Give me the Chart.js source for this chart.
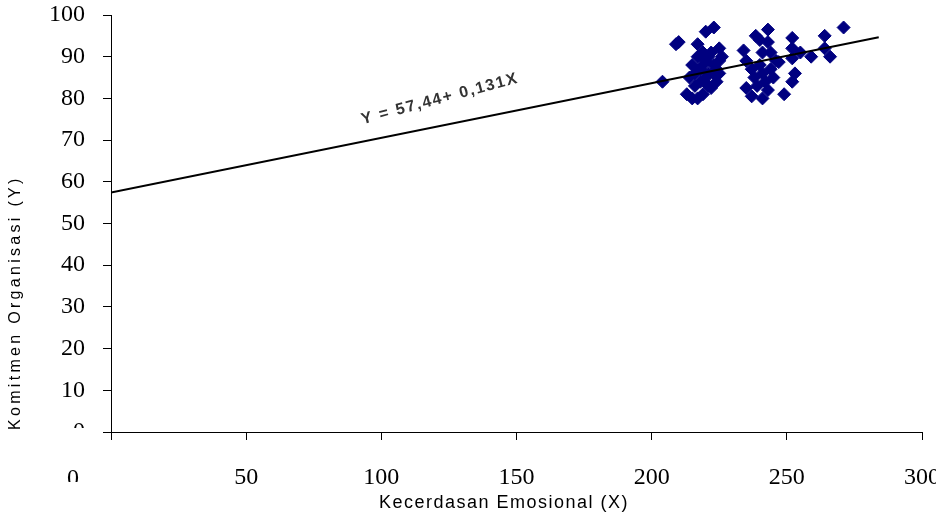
<!DOCTYPE html>
<html lang="en">
<head>
    <meta charset="UTF-8">
    <title>Kecerdasan Emosional vs Komitmen Organisasi</title>
    <script src="https://cdn.jsdelivr.net/npm/chart.js"></script>
    <style>
        body { margin: 0; background: #fff; }
    </style>
</head>
<body>
    <canvas id="myChart" width="936" height="516"></canvas>

    <script>
        // respondent scores
        const emosionalX = [
            204, 209, 210, 217, 220, 223, 225, 213, 215, 217, 219, 222, 224, 214, 216, 218, 219,
            220, 221, 222, 223, 225, 226, 215, 217, 218, 220, 221, 223, 224, 216, 219, 221, 225,
            243, 238.5, 243, 241, 240, 234, 235, 237, 238, 239, 240, 241, 242, 243, 241, 244,
            245, 246, 244, 235, 237, 247, 249, 252, 253, 252, 252, 252, 259, 264, 264, 266, 271, 255
        ];
        const komitmenY = [
            84, 93, 93.5, 93, 96, 97, 92, 81, 80, 80, 81, 82.5, 84, 85, 86, 87, 88,
            89, 90, 91, 88, 89, 90, 88, 90, 84, 85, 83, 86, 87, 83, 91, 86, 86,
            96.5, 95, 93.5, 91, 94, 91.5, 89, 87, 85, 83, 88, 86, 84, 82, 80, 87,
            85, 89, 91, 82.5, 80.5, 88.7, 81, 84, 86, 89.6, 92, 94.5, 90, 95, 92, 90, 97, 91
        ];
        // regression line Y = 57,44 + 0,131X drawn between its two ends
        const lineX = [0, 284];
        const lineY = [57.44, 94.64];
        const xTicks = [0, 50, 100, 150, 200, 250, 300];

        const points = emosionalX.map((x, i) => ({ x: x, y: komitmenY[i] }));
        const linePts = lineX.map((x, i) => ({ x: x, y: lineY[i] }));

        const serif = '"Liberation Serif", "Times New Roman", serif';
        const sans = '"Liberation Sans", Arial, sans-serif';

        // titles + equation are drawn here so they can get the wide letter spacing of the scan
        const extras = {
            id: 'extras',
            afterDraw(chart) {
                const ctx = chart.ctx;
                const area = chart.chartArea;

                ctx.save();
                ctx.fillStyle = '#000';
                ctx.textBaseline = 'middle';
                ctx.font = '18px ' + sans;
                ctx.letterSpacing = '1.5px';
                ctx.textAlign = 'center';
                ctx.fillText('Kecerdasan Emosional (X)', 504, 503);

                ctx.translate(16, area.bottom);
                ctx.rotate(-Math.PI / 2);
                ctx.font = '16px ' + sans;
                ctx.letterSpacing = '3.3px';
                ctx.textAlign = 'left';
                ctx.fillText('Komitmen Organisasi (Y)', 2, 0);
                ctx.restore();

                // equation label along the line
                ctx.save();
                ctx.translate(440, 99);
                ctx.rotate(-15 * Math.PI / 180);
                ctx.font = 'bold 16px ' + sans;
                ctx.letterSpacing = '1.7px';
                ctx.fillStyle = '#333';
                ctx.textAlign = 'center';
                ctx.textBaseline = 'middle';
                ctx.fillText('Y = 57,44+ 0,131X', 0, 0);
                ctx.restore();

                // the two half-hidden zeros of the original
                ctx.save();
                ctx.font = '24px ' + serif;
                ctx.fillStyle = '#000';
                ctx.textAlign = 'center';
                ctx.textBaseline = 'middle';
                ctx.beginPath();
                ctx.rect(60, 415, 35, 13);
                ctx.rect(55, 460, 35, 22);
                ctx.clip();
                ctx.fillText('0', 79, area.bottom);
                ctx.fillText('0', 73, 479);
                ctx.restore();
            }
        };

        const ctx = document.getElementById('myChart').getContext('2d');
        new Chart(ctx, {
            type: 'scatter',
            data: {
                datasets: [{
                    label: 'Data',
                    data: points,
                    pointStyle: 'rectRot',
                    pointRadius: 6.5,
                    backgroundColor: '#000080',
                    borderColor: '#000080',
                    borderWidth: 1,
                    order: 2
                }, {
                    label: 'Regresi',
                    type: 'line',
                    data: linePts,
                    borderColor: '#000',
                    borderWidth: 2,
                    pointRadius: 0,
                    fill: false,
                    order: 1
                }]
            },
            options: {
                responsive: false,
                animation: false,
                layout: { autoPadding: false, padding: { top: 15, right: 14, left: 0, bottom: 0 } },
                plugins: {
                    legend: { display: false },
                    tooltip: { enabled: false }
                },
                scales: {
                    x: {
                        type: 'linear',
                        min: 0,
                        max: 300,
                        afterBuildTicks: scale => {
                            scale.ticks = xTicks.map(v => ({ value: v }));
                        },
                        afterFit: scale => {
                            scale.height = 84;
                            scale.paddingLeft = 0;
                            scale.paddingRight = 0;
                        },
                        border: { color: '#000', width: 1 },
                        grid: { drawOnChartArea: false, color: '#000', tickLength: 8 },
                        ticks: {
                            color: '#000',
                            padding: 23,
                            maxRotation: 0,
                            font: { family: serif, size: 24 },
                            callback: v => (v === 0 ? '' : v)
                        }
                    },
                    y: {
                        min: 0,
                        max: 100,
                        afterFit: scale => {
                            scale.width = 111;
                            scale.paddingTop = 0;
                            scale.paddingBottom = 0;
                        },
                        border: { color: '#000', width: 1 },
                        grid: { drawOnChartArea: false, color: '#000', tickLength: 8 },
                        ticks: {
                            stepSize: 10,
                            color: '#000',
                            padding: 18,
                            font: { family: serif, size: 24 },
                            callback: v => (v === 0 ? '' : v)
                        }
                    }
                }
            },
            plugins: [extras]
        });
    </script>
</body>
</html>
